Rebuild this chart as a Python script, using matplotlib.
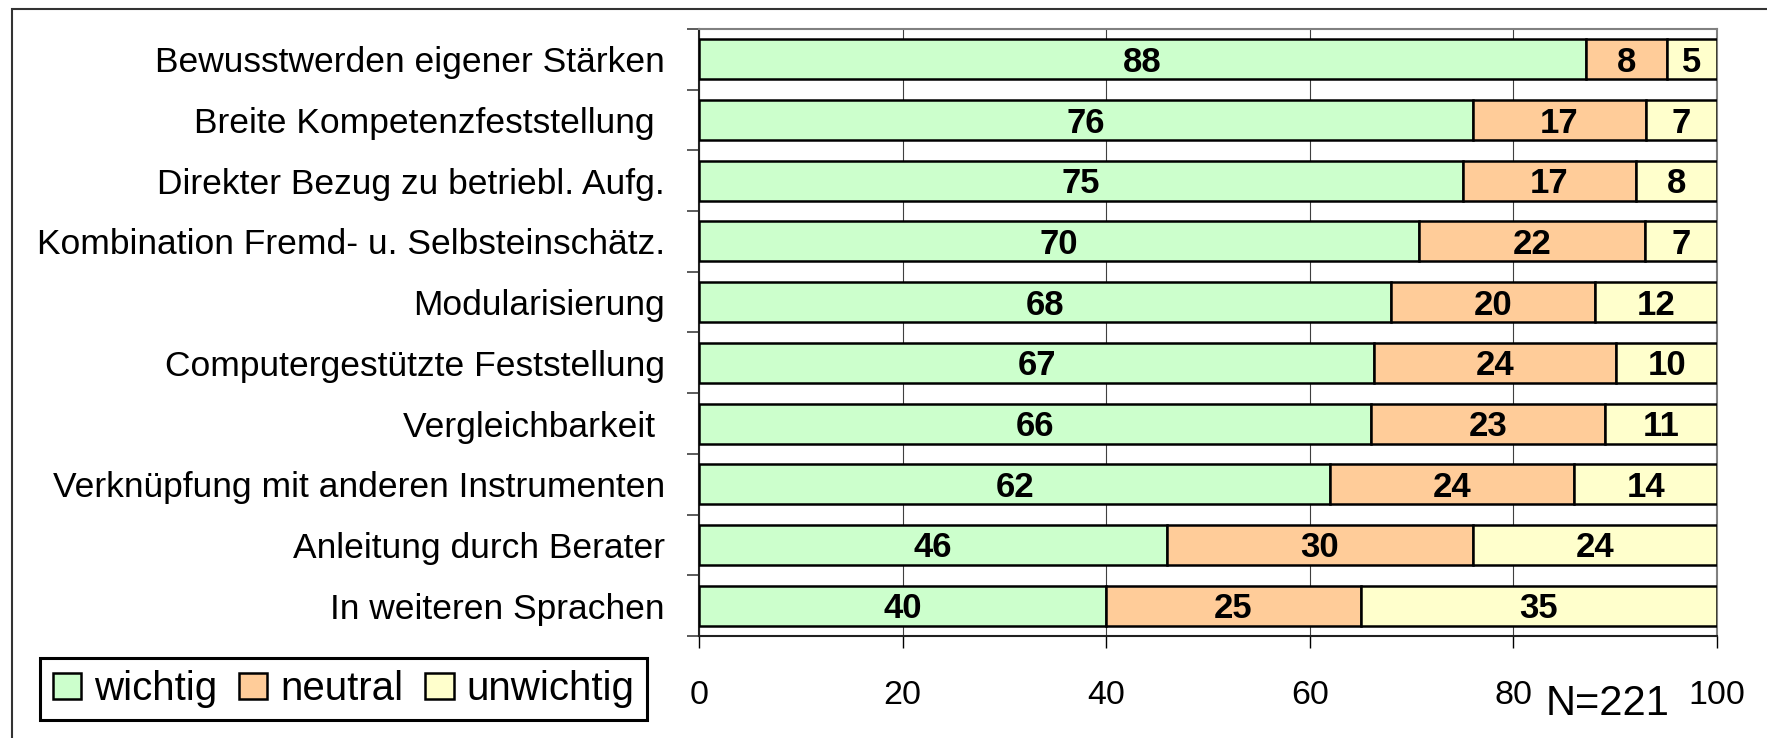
"""Gestapelte 100%-Balken: Wichtigkeit der Merkmale (N=221)."""
import matplotlib
matplotlib.use("Agg")
import matplotlib.pyplot as plt
import numpy as np
from matplotlib.patches import Rectangle

plt.rcParams["font.family"] = ["Liberation Sans", "DejaVu Sans"]

categories = [
    "Bewusstwerden eigener Stärken",
    "Breite Kompetenzfeststellung ",
    "Direkter Bezug zu betriebl. Aufg.",
    "Kombination Fremd- u. Selbsteinschätz.",
    "Modularisierung",
    "Computergestützte Feststellung",
    "Vergleichbarkeit ",
    "Verknüpfung mit anderen Instrumenten",
    "Anleitung durch Berater",
    "In weiteren Sprachen",
]
wichtig = [88, 76, 75, 70, 68, 67, 66, 62, 46, 40]
neutral = [8, 17, 17, 22, 20, 24, 23, 24, 30, 25]
unwichtig = [5, 7, 8, 7, 12, 10, 11, 14, 24, 35]
series_names = ["wichtig", "neutral", "unwichtig"]
series_colors = ["#CCFFCC", "#FFCC99", "#FFFFCC"]
x_ticks = [0, 20, 40, 60, 80, 100]
note = "N=221"

W, H = 1767, 738
fig = plt.figure(figsize=(W / 100, H / 100), dpi=100)
ax = fig.add_axes([699 / W, 1 - 636 / H, (1717 - 699) / W, (636 - 29) / H])

y = np.arange(len(categories))
totals = np.array(wichtig) + np.array(neutral) + np.array(unwichtig)
left = np.zeros(len(categories))
for vals, color, name in zip([wichtig, neutral, unwichtig], series_colors, series_names):
    widths = np.array(vals) / totals * 100
    ax.barh(y, widths, left=left, height=0.66, color=color, edgecolor="black",
            linewidth=1.8, label=name, zorder=3)
    for yi, l, wi, v in zip(y, left, widths, vals):
        ax.annotate(str(v), (l + wi / 2, yi), xytext=(0, -9), textcoords="offset points",
                    ha="center", va="baseline", fontsize=25, fontweight="bold", zorder=4)
    left += widths

ax.set_xlim(0, 100)
ax.set_ylim(len(categories) - 0.5, -0.5)
ax.set_xticks(x_ticks)
ax.set_xticklabels([str(t) for t in x_ticks])
ax.xaxis.grid(True, color="#404040", linewidth=0.8)
ax.yaxis.grid(False)
ax.set_axisbelow(True)
ax.tick_params(axis="x", direction="out", length=8.6, width=1, pad=23, labelsize=24.5)

ax.set_yticks(y)
ax.set_yticklabels(categories)
ax.tick_params(axis="y", which="major", length=0, pad=24.5, labelsize=25.5)
ax.set_yticks(np.arange(-0.5, len(categories), 1), minor=True)
ax.tick_params(axis="y", which="minor", length=8.6, width=1.2, color="#404040")

for s in ["top", "right"]:
    ax.spines[s].set_color("#808080")
    ax.spines[s].set_linewidth(1.5)
for s in ["left", "bottom"]:
    ax.spines[s].set_color("#202020")
    ax.spines[s].set_linewidth(1.5)

leg = fig.legend(loc="center", bbox_to_anchor=((38 + 649) / 2 / W, 1 - 689 / H), ncol=3,
                 fontsize=29, frameon=True, fancybox=False, edgecolor="black", framealpha=1,
                 handlelength=0.7, handleheight=0.6, handletextpad=0.32,
                 columnspacing=0.55, borderpad=0.3, borderaxespad=0)
leg.get_frame().set_linewidth(2.2)

fig.text(1608 / W, 1 - 715 / H, note, fontsize=30, ha="center", va="baseline")

# Rahmen (oben und links sichtbar)
fig.add_artist(Rectangle((12 / W, -0.5), 2, 1 - 9 / H + 0.5, transform=fig.transFigure,
                         fill=False, edgecolor="#333333", linewidth=1.5))

fig.savefig("out.png", dpi=100)
